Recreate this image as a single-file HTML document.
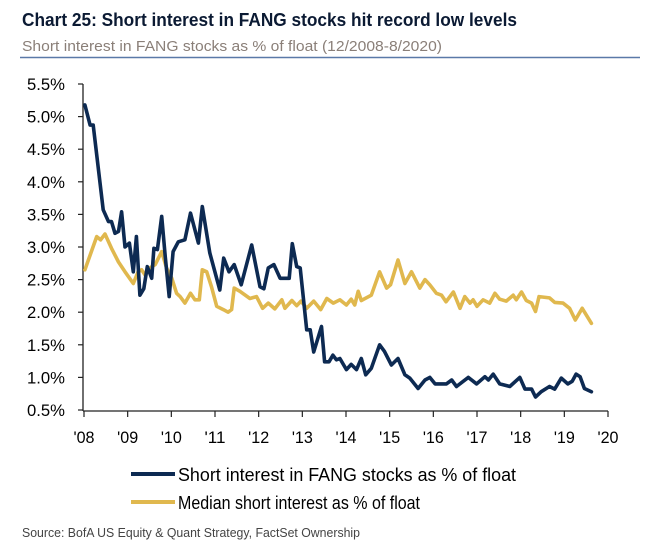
<!DOCTYPE html>
<html><head><meta charset="utf-8"><style>
body{margin:0;background:#fff;width:656px;height:552px;overflow:hidden;font-family:"Liberation Sans",sans-serif}
svg text{font-family:"Liberation Sans",sans-serif}
</style></head><body>
<svg id="chart" width="656" height="552" viewBox="0 0 656 552" xmlns="http://www.w3.org/2000/svg">
<text x="22" y="26" font-size="18.5" font-weight="bold" fill="#0b1a33" textLength="495" lengthAdjust="spacingAndGlyphs">Chart 25: Short interest in FANG stocks hit record low levels</text>
<text x="22" y="51" font-size="15" fill="#8a7f78" textLength="420" lengthAdjust="spacingAndGlyphs">Short interest in FANG stocks as % of float (12/2008-8/2020)</text>
<line x1="20" y1="57.5" x2="640" y2="57.5" stroke="#5a79a8" stroke-width="1.5"/>
<g id="axes"></g>
<g id="series"></g>
<g>
<line x1="131" y1="474" x2="175" y2="474" stroke="#0d2a52" stroke-width="4"/>
<text x="178" y="481" font-size="18" fill="#000" textLength="338" lengthAdjust="spacingAndGlyphs">Short interest in FANG stocks as % of float</text>
<line x1="131" y1="502" x2="175" y2="502" stroke="#e0b84e" stroke-width="4"/>
<text x="178" y="509" font-size="18" fill="#000" textLength="242" lengthAdjust="spacingAndGlyphs">Median short interest as % of float</text>
</g>
<text x="22" y="537" font-size="13" fill="#444" textLength="338" lengthAdjust="spacingAndGlyphs">Source: BofA US Equity &amp; Quant Strategy, FactSet Ownership</text>
</svg>
<script>
const yTicks=[0.5,1.0,1.5,2.0,2.5,3.0,3.5,4.0,4.5,5.0,5.5];
const xTickYears=[2008,2009,2010,2011,2012,2013,2014,2015,2016,2017,2018,2019,2020];
const xTickLabels=["'08","'09","'10","'11","'12","'13","'14","'15","'16","'17","'18","'19","'20"];
const fangDates=[2008.02,2008.14,2008.21,2008.44,2008.56,2008.63,2008.71,2008.79,2008.86,2008.94,2009.04,2009.13,2009.2,2009.28,2009.37,2009.45,2009.55,2009.6,2009.68,2009.78,2009.86,2009.95,2010.04,2010.16,2010.31,2010.44,2010.62,2010.71,2010.88,2011.11,2011.2,2011.32,2011.44,2011.6,2011.84,2012.03,2012.12,2012.22,2012.35,2012.49,2012.7,2012.77,2012.87,2012.95,2013.1,2013.18,2013.26,2013.44,2013.51,2013.61,2013.7,2013.78,2013.86,2014.01,2014.12,2014.24,2014.35,2014.45,2014.58,2014.77,2014.88,2015.04,2015.19,2015.35,2015.46,2015.65,2015.81,2015.92,2016.04,2016.3,2016.42,2016.53,2016.8,2016.99,2017.18,2017.26,2017.37,2017.52,2017.75,2017.98,2018.1,2018.25,2018.34,2018.47,2018.66,2018.78,2018.93,2019.08,2019.18,2019.27,2019.36,2019.46,2019.62];
const fangValues=[5.18,4.87,4.87,3.57,3.39,3.39,3.21,3.24,3.54,3.0,3.06,2.62,3.16,2.26,2.36,2.70,2.52,2.98,2.96,3.47,2.86,2.24,2.93,3.08,3.11,3.52,3.06,3.62,2.91,2.34,2.83,2.62,2.73,2.42,3.03,2.39,2.36,2.68,2.73,2.52,2.52,3.05,2.70,2.68,1.73,1.73,1.39,1.78,1.24,1.24,1.34,1.27,1.29,1.12,1.2,1.12,1.29,1.04,1.14,1.5,1.4,1.19,1.29,1.04,0.99,0.83,0.96,1.0,0.9,0.9,0.96,0.86,1.0,0.9,1.01,0.96,1.05,0.9,0.86,1.0,0.82,0.82,0.7,0.78,0.86,0.82,0.99,0.9,0.94,1.05,1.01,0.83,0.78];
const medianDates=[2008.02,2008.29,2008.38,2008.48,2008.63,2008.79,2008.94,2009.13,2009.24,2009.32,2009.4,2009.51,2009.63,2009.78,2009.89,2010.01,2010.12,2010.2,2010.31,2010.44,2010.54,2010.64,2010.71,2010.81,2010.92,2011.04,2011.19,2011.3,2011.38,2011.44,2011.57,2011.8,2011.95,2012.09,2012.22,2012.37,2012.53,2012.6,2012.76,2012.87,2012.97,2013.1,2013.26,2013.42,2013.56,2013.71,2013.86,2014.01,2014.12,2014.2,2014.28,2014.35,2014.58,2014.77,2014.93,2015.02,2015.19,2015.35,2015.5,2015.69,2015.81,2015.92,2016.07,2016.19,2016.29,2016.46,2016.61,2016.72,2016.84,2016.91,2017.0,2017.14,2017.29,2017.41,2017.52,2017.67,2017.83,2017.9,2018.02,2018.13,2018.25,2018.34,2018.42,2018.66,2018.78,2018.97,2019.12,2019.25,2019.41,2019.62];
const medianValues=[2.65,3.16,3.11,3.2,2.98,2.77,2.62,2.44,2.62,2.65,2.57,2.68,2.73,2.93,2.68,2.52,2.29,2.24,2.14,2.29,2.19,2.19,2.65,2.62,2.39,2.09,2.04,2.0,2.04,2.37,2.32,2.21,2.24,2.06,2.14,2.05,2.19,2.06,2.18,2.1,2.17,2.06,2.17,2.04,2.21,2.14,2.19,2.11,2.2,2.11,2.32,2.18,2.26,2.62,2.37,2.42,2.8,2.44,2.62,2.37,2.5,2.42,2.29,2.26,2.16,2.31,2.06,2.24,2.14,2.19,2.09,2.19,2.14,2.29,2.2,2.17,2.26,2.19,2.31,2.18,2.14,2.01,2.24,2.22,2.15,2.14,2.06,1.88,2.06,1.83];

const NS='http://www.w3.org/2000/svg';
const X0=84,X1=608,Y0=410,Y1=84;
function xs(t){return X0+(t-2008)/(2020-2008)*(X1-X0);}
function ys(v){return Y0-(v-0.5)/(5.5-0.5)*(Y0-Y1);}
function mk(tag,attrs,parent){const e=document.createElementNS(NS,tag);for(const k in attrs)e.setAttribute(k,attrs[k]);parent.appendChild(e);return e;}
const axes=document.getElementById('axes');
let yl=mk('line',{x1:X0-1,y1:Y1,x2:X0-1,y2:Y0+1,stroke:'#222','stroke-width':1.3},axes);


let xl=mk('line',{x1:X0-1,y1:Y0+1,x2:X1,y2:Y0+1,stroke:'#222','stroke-width':1.3},axes);


yTicks.forEach(v=>{
  const y=ys(v);
  const tk=mk('line',{x1:X0-6,y1:y,x2:X0-1,y2:y,stroke:'#222','stroke-width':1.2},axes);
  
  
  const t=mk('text',{x:65,y:y+6,'text-anchor':'end','font-size':17,fill:'#000',textLength:38,lengthAdjust:'spacingAndGlyphs'},axes);
  t.textContent=v.toFixed(1)+'%';
  
  
});
xTickYears.forEach((yr,i)=>{
  const x=xs(yr);
  const tk=mk('line',{x1:x,y1:Y0+1,x2:x,y2:Y0+7,stroke:'#222','stroke-width':1.2},axes);
  
  
  const t=mk('text',{x:x,y:443,'text-anchor':'middle','font-size':17,fill:'#000',textLength:21,lengthAdjust:'spacingAndGlyphs'},axes);
  t.textContent=xTickLabels[i];
  
  
});
const ser=document.getElementById('series');
function line(d,v,color,name){
  const pts=d.map((t,i)=>xs(t).toFixed(1)+','+ys(v[i]).toFixed(1)).join(' ');
  const p=mk('polyline',{points:pts,fill:'none',stroke:color,'stroke-width':3.6,'stroke-linejoin':'round','stroke-linecap':'round'},ser);
  
  
}
line(medianDates,medianValues,'#e0b84e','median-short-interest-line');
line(fangDates,fangValues,'#0d2a52','fang-short-interest-line');
</script>
</body></html>
